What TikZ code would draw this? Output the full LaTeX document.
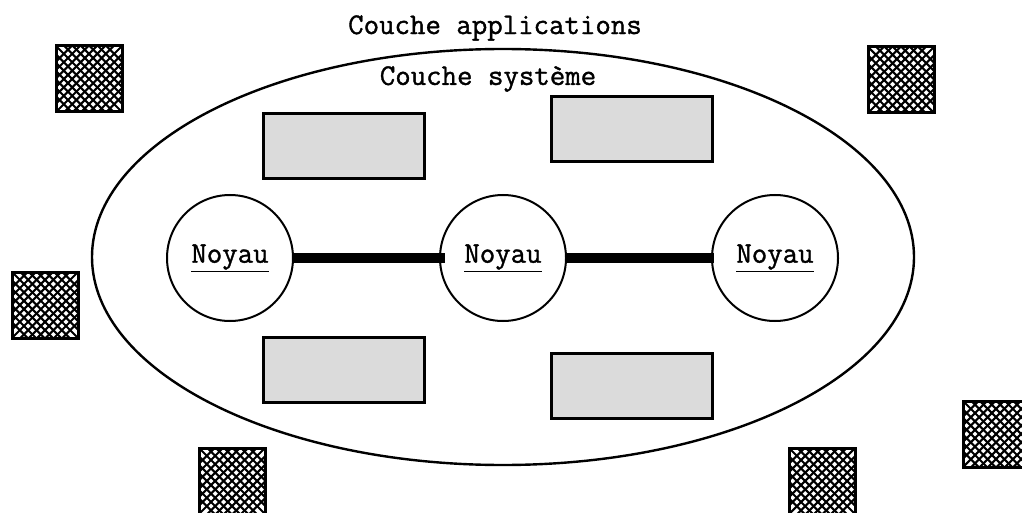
\documentclass[tikz,border=0pt]{standalone}
\usepackage{fontspec}
\newfontfamily\courier[FakeBold=1.2]{Latin Modern Mono}
\usetikzlibrary{shapes.geometric}

\begin{document}
\begin{tikzpicture}[x=1pt, y=-1pt, line width=2pt,
    txt/.style = {font=\courier\fontsize{30}{34}\selectfont, inner sep=0pt},
    noyau/.style = {draw, circle, minimum size=126pt, inner sep=0pt, txt},
    module/.style = {draw, line width=3pt, fill=black!14, minimum width=161pt, minimum height=65pt, inner sep=0pt},
    appli/.style = {draw, line width=3pt, minimum size=66pt, inner sep=0pt,
        path picture={
            \foreach \i in {-6,...,6} {
                \draw[line width=2.1pt] ([xshift=\i*8.4pt-40pt, yshift=40pt]path picture bounding box.center) -- ++(80,80);
                \draw[line width=2.1pt] ([xshift=\i*8.4pt+40pt, yshift=40pt]path picture bounding box.center) -- ++(-80,80);
            }}},
    bus/.style = {line width=10pt}]
    \useasboundingbox (0,0) rectangle (1022,513);

    % couche systeme
    \node[draw, ellipse, line width=2.4pt, minimum width=822pt, minimum height=416pt, inner sep=0pt] (sys) at (503,257) {};
    \node[txt] (tapp) at (495,28) {Couche applications};
    \node[txt] (tsys) at (488,79) {Couche système};

    % noyaux
    \node[noyau] (k1) at (230,258) {\underline{Noyau}};
    \node[noyau] (k2) at (503,258) {\underline{Noyau}};
    \node[noyau] (k3) at (775,258) {\underline{Noyau}};

    \draw[bus] (k1.east) -- ([xshift=6pt]k2.west);
    \draw[bus] (k2.east) -- ([xshift=3pt]k3.west);

    % modules systeme
    \node[module] (m1) at (344,146) {};
    \node[module] (m2) at (632,129) {};
    \node[module] (m3) at (344,370) {};
    \node[module] (m4) at (632,386) {};

    % applications
    \node[appli] (a1) at (89,79) {};
    \node[appli] (a2) at (901,80) {};
    \node[appli] (a3) at (45,305) {};
    \node[appli] (a4) at (232,481) {};
    \node[appli] (a5) at (822,481) {};
    \node[appli] (a6) at (996,434) {};
\end{tikzpicture}
\end{document}
